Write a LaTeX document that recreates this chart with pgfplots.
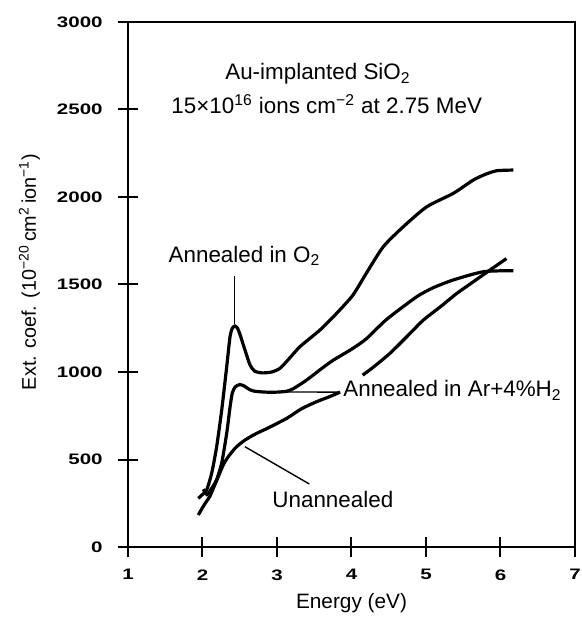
\documentclass[border=0pt]{standalone}
\usepackage{pgfplots}
\pgfplotsset{compat=1.18}
\usepackage{fontspec}
\setmainfont{Liberation Sans}
\newfontfamily\tickfont{Liberation Sans Bold}
\newcommand\annfont{\fontsize{11.2bp}{13.4bp}\selectfont}
\newcommand\labfont{\fontsize{10.4bp}{12.4bp}\selectfont}
\newcommand\ylabfont{\fontsize{9.9bp}{12bp}\selectfont}
% wide, heavy tick numbers
\newcommand\widetick[1]{\scalebox{1.35}[1]{#1}}

\pgfplotstableread{
x y
1.944 278
2.000 300
2.056 326
2.123 421
2.190 573
2.258 783
2.325 1030
2.369 1200
2.400 1250
2.436 1263
2.470 1250
2.503 1215
2.570 1126
2.638 1040
2.700 1005
2.800 995
2.930 1000
3.040 1021
3.150 1070
3.309 1145
3.577 1240
3.800 1335
4.020 1440
4.200 1565
4.427 1716
4.695 1830
5.010 1944
5.367 2021
5.635 2097
5.800 2130
5.949 2150
6.172 2154
}\oxygen

\pgfplotstableread{
x y
2.010 330
2.060 300
2.100 320
2.145 350
2.190 385
2.258 480
2.325 650
2.370 800
2.400 880
2.440 915
2.500 928
2.560 920
2.630 900
2.700 890
2.850 885
3.000 885
3.130 890
3.220 905
3.398 954
3.600 1020
3.757 1068
4.000 1130
4.200 1190
4.470 1300
4.875 1430
5.100 1482
5.367 1526
5.770 1573
6.172 1579
}\argon

% unannealed curve, interrupted where the Ar+H2 label sits
\pgfplotstableread{
x y
1.944 183
2.000 225
2.056 262
2.100 290
2.160 350
2.212 402
2.280 470
2.346 516
2.450 570
2.570 611
2.720 648
2.880 680
3.130 735
3.330 790
3.530 830
3.700 858
3.846 885
}\unannA

\pgfplotstableread{
x y
4.150 982
4.300 1030
4.517 1107
4.750 1205
4.960 1295
5.200 1375
5.410 1448
5.600 1505
5.840 1577
6.080 1648
}\unannB

\begin{document}
\begin{tikzpicture}
\useasboundingbox (-64bp,-37.5bp) rectangle (227bp,273.5bp);
\begin{axis}[
  scale only axis,
  width=223.5bp, height=262.5bp,
  xmin=1, xmax=7, ymin=0, ymax=3000,
  xtick={1,2,...,7}, ytick={0,500,...,3000},
  xtick pos=left, ytick pos=left,
  tick align=center, major tick length=10bp,
  axis line style={line width=1bp},
  every tick/.style={black, line width=1bp},
  /pgf/number format/assume math mode=true,
  /pgf/number format/1000 sep={},
  scaled ticks=false,
  xticklabel={\widetick{\pgfmathprintnumber{\tick}}},
  yticklabel={\widetick{\pgfmathprintnumber{\tick}}},
  tick label style={font=\tickfont\fontsize{7.6bp}{9bp}\selectfont},
  yticklabel style={anchor=east, inner sep=0pt, xshift=-12.5bp+5bp},
  xticklabel style={anchor=north, inner sep=0pt, yshift=-11bp+5bp},
  xlabel={Energy (eV)},
  ylabel={Ext. coef. (10\textsuperscript{−20}\,cm\textsuperscript{2}\,ion\textsuperscript{−1})},
  every axis x label/.style={at={(axis description cs:0.5,-0.118)}, anchor=base, font=\labfont, inner sep=0pt},
  every axis y label/.style={at={(axis description cs:-0.206,0.524)}, anchor=base, rotate=90, font=\ylabfont, inner sep=0pt},
  clip=false,
  curve/.style={black, line width=1.6bp, smooth, tension=0.4, no marks},
  leader/.style={black, line width=0.7bp, no marks},
]
\addplot[curve] table {\oxygen};
\addplot[curve] table {\argon};
\addplot[curve] table {\unannA};
\addplot[curve] table {\unannB};

\addplot[leader] coordinates {(2.427,1549) (2.427,1275)};
\addplot[leader] coordinates {(3.13,886) (3.846,885)};
\addplot[leader] coordinates {(2.570,573) (3.434,360)};

\node[anchor=base, inner sep=0pt, font=\annfont] at (axis cs:3.55,2671) {Au-implanted SiO\textsubscript{2}};
\node[anchor=base, inner sep=0pt, font=\annfont] at (axis cs:3.667,2478) {15×10\textsuperscript{16} ions cm\textsuperscript{−2} at 2.75 MeV};
\node[anchor=base, inner sep=0pt, font=\annfont] at (axis cs:2.564,1627) {Annealed in O\textsubscript{2}};
\node[anchor=base west, inner sep=0pt, font=\annfont] at (axis cs:3.886,859) {Annealed in Ar+4\%H\textsubscript{2}};
\node[anchor=base, inner sep=0pt, font=\annfont] at (axis cs:3.75,225) {Unannealed};
\end{axis}
\end{tikzpicture}
\end{document}
